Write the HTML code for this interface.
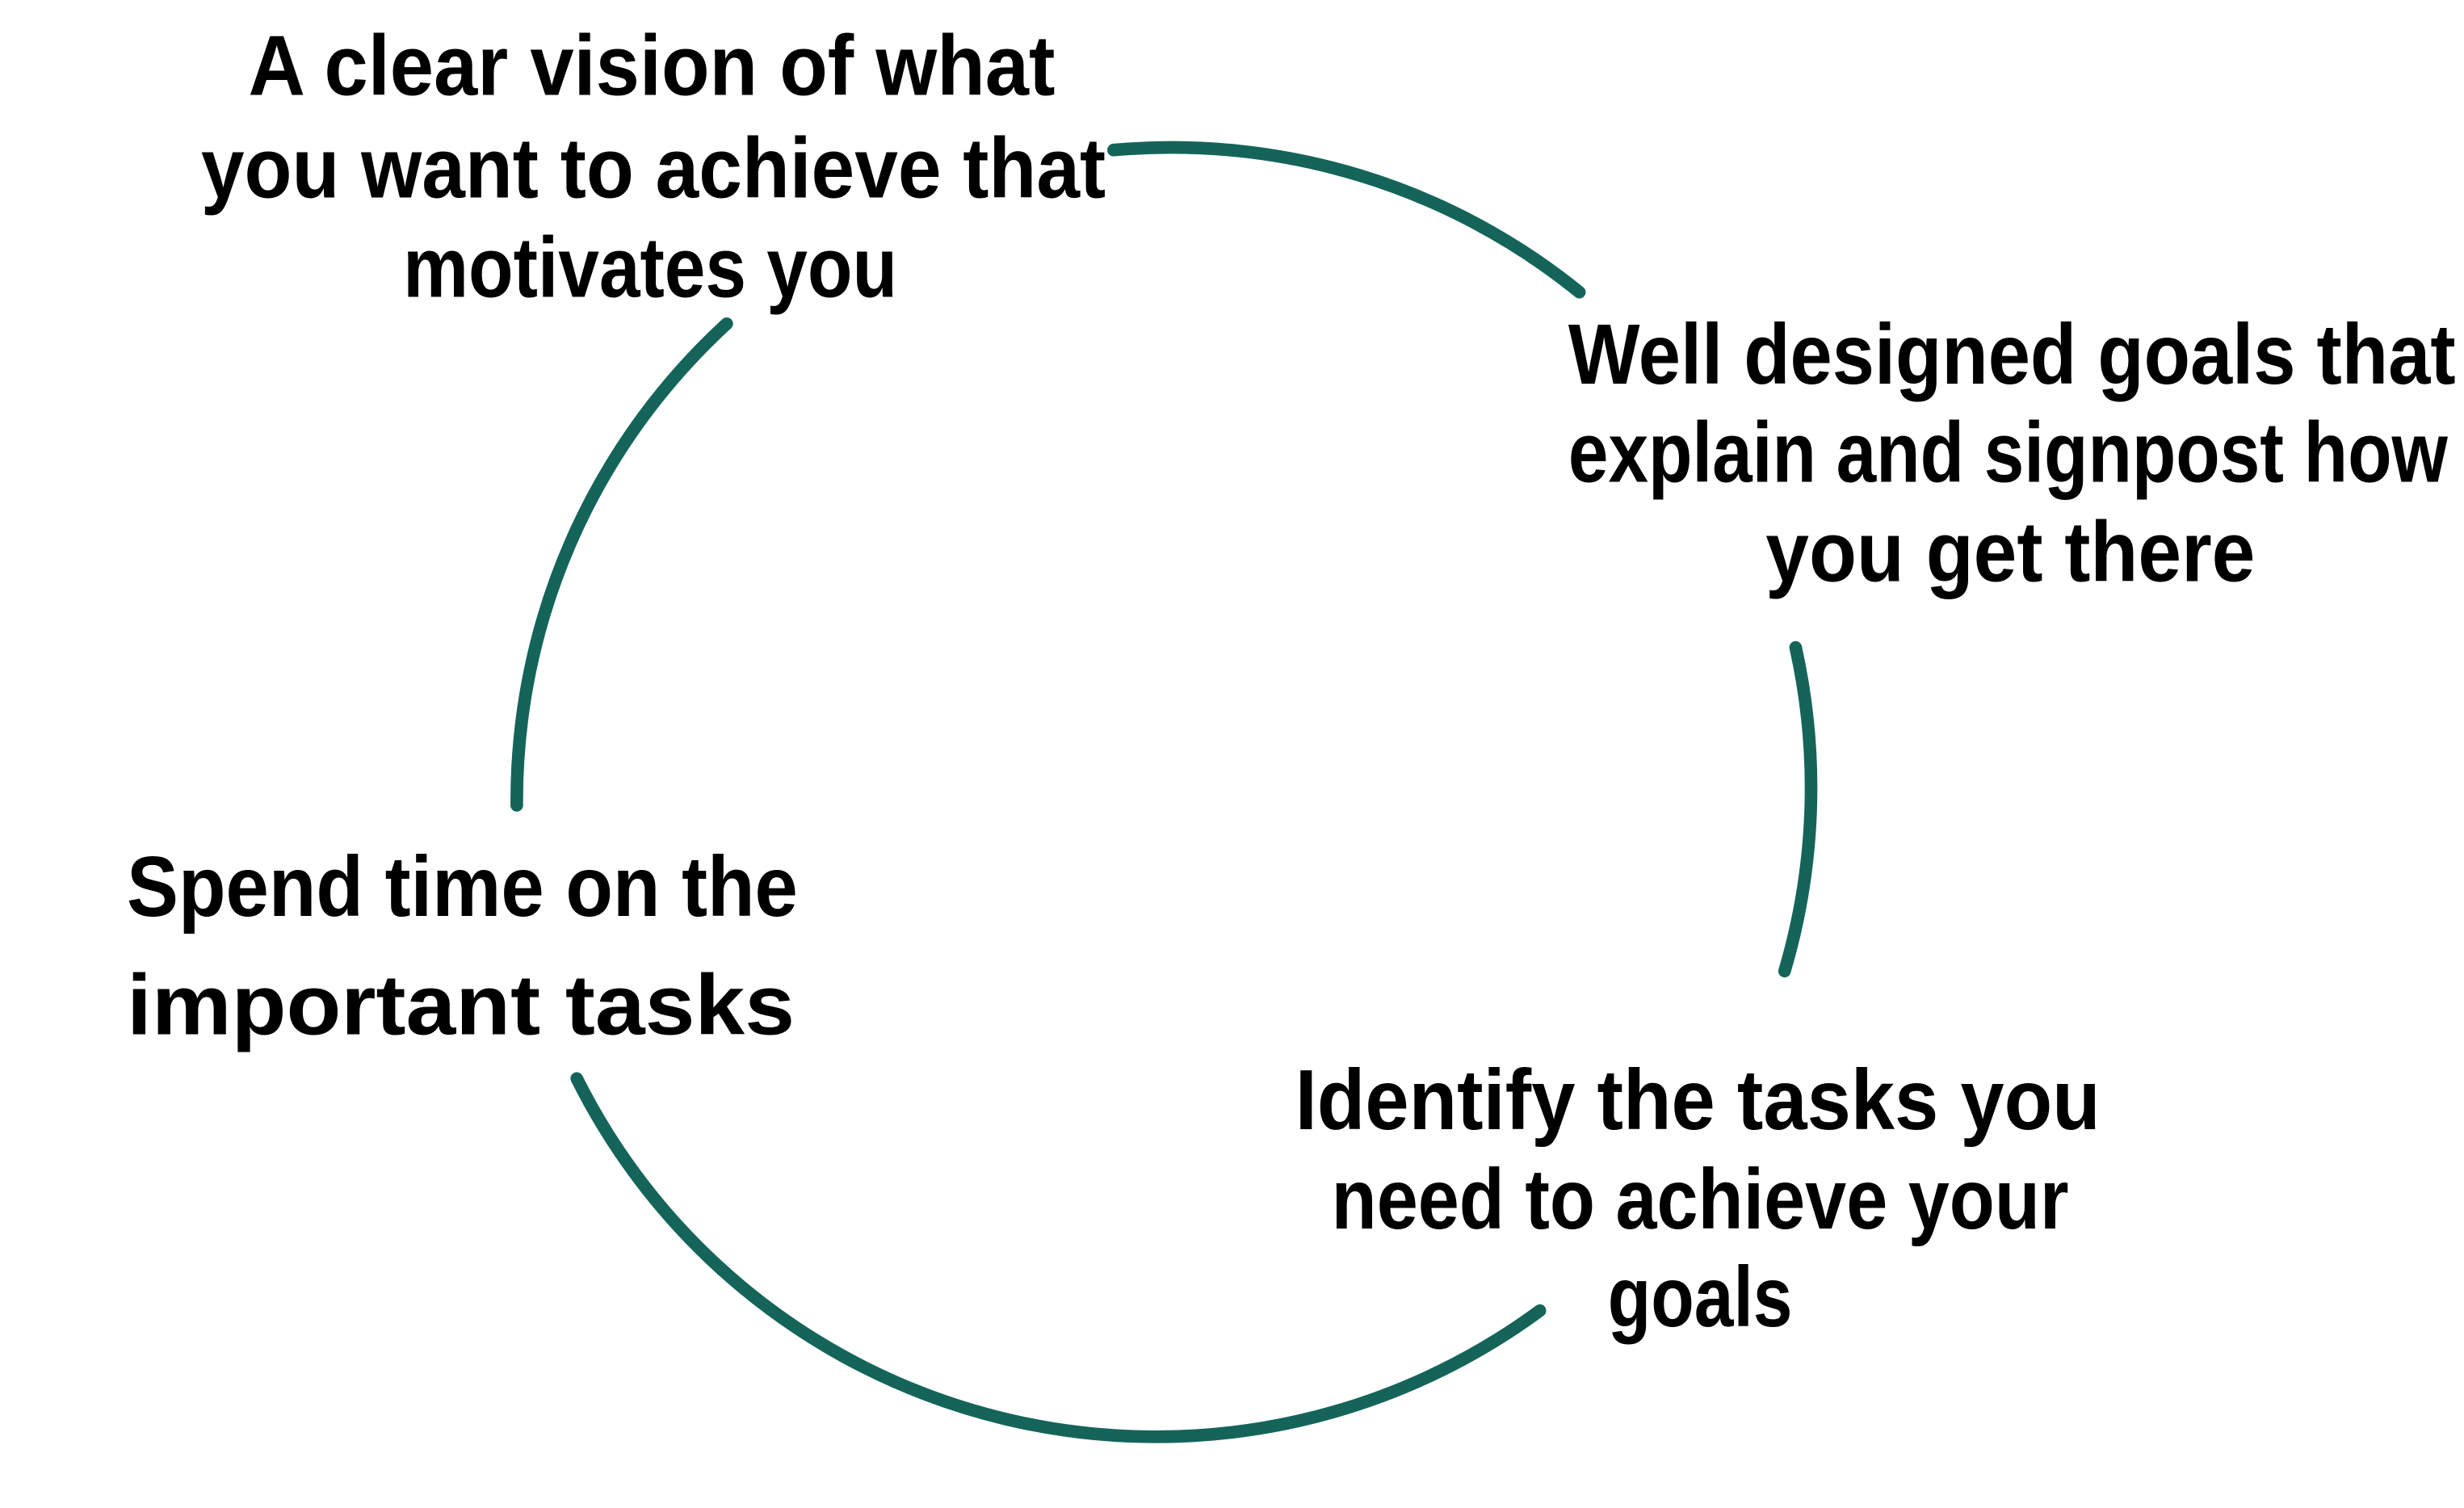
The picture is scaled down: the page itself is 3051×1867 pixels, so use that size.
<!DOCTYPE html>
<html><head><meta charset="utf-8"><style>
html,body{margin:0;padding:0;background:#fff;}
svg{display:block;}
text{font-family:"Liberation Sans Narrow","Liberation Sans",sans-serif;font-weight:bold;font-size:54px;fill:#000;}
</style></head><body>
<svg width="3051" height="1867" viewBox="0 0 1560 955" xmlns="http://www.w3.org/2000/svg">
<g fill="none" stroke="#14645a" stroke-width="8" stroke-linecap="round">
<path d="M705,95 A410,410 0 0 1 1000,185"/>
<path d="M1137,410 A410,410 0 0 1 1130,615"/>
<path d="M975,830 A410,410 0 0 1 365,683"/>
<path d="M327,510 A410,410 0 0 1 460,205"/>
</g>
<text x="157" y="60" textLength="511" lengthAdjust="spacingAndGlyphs">A clear vision of what</text>
<text x="127" y="125" textLength="573" lengthAdjust="spacingAndGlyphs">you want to achieve that</text>
<text x="255" y="188" textLength="313" lengthAdjust="spacingAndGlyphs">motivates you</text>
<text x="993" y="243" textLength="562" lengthAdjust="spacingAndGlyphs">Well designed goals that</text>
<text x="993" y="305" textLength="557" lengthAdjust="spacingAndGlyphs">explain and signpost how</text>
<text x="1118" y="368" textLength="310" lengthAdjust="spacingAndGlyphs">you get there</text>
<text x="80" y="580" textLength="425" lengthAdjust="spacingAndGlyphs">Spend time on the</text>
<text x="80" y="655" textLength="423" lengthAdjust="spacingAndGlyphs">important tasks</text>
<text x="820" y="715" textLength="510" lengthAdjust="spacingAndGlyphs">Identify the tasks you</text>
<text x="843" y="778" textLength="467" lengthAdjust="spacingAndGlyphs">need to achieve your</text>
<text x="1018" y="840" textLength="117" lengthAdjust="spacingAndGlyphs">goals</text>
</svg>
</body></html>
